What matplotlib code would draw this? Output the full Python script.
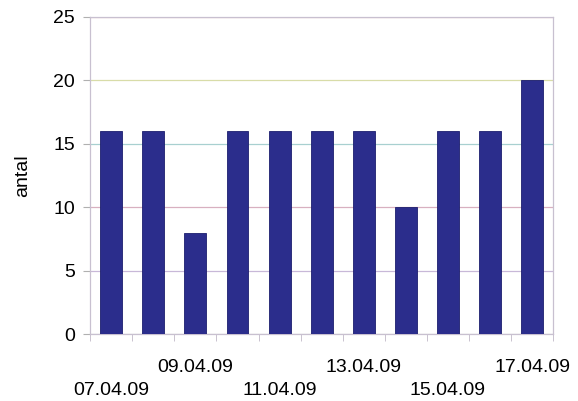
import matplotlib.pyplot as plt
from matplotlib.transforms import ScaledTranslation

plt.rcParams['font.family'] = ['Liberation Sans', 'DejaVu Sans']

dates = ['07.04.09', '08.04.09', '09.04.09', '10.04.09', '11.04.09', '12.04.09',
         '13.04.09', '14.04.09', '15.04.09', '16.04.09', '17.04.09']
antal = [16, 16, 8, 16, 16, 16, 16, 10, 16, 16, 20]
y_ticks = [0, 5, 10, 15, 20, 25]

fig = plt.figure(figsize=(5.78, 4.01), dpi=100)
ax = fig.add_axes([0.156, 0.167, 0.801, 0.791])

x = list(range(len(dates)))
ax.bar(x, antal, width=0.52, color='#2b2d8c', edgecolor='#1c1e6e', linewidth=0.6, zorder=3)

ax.set_xlim(-0.5, len(dates) - 0.5)
ax.set_ylim(0, 25)
ax.set_yticks(y_ticks)

# faint coloured gridlines, like the scanned original
ax.grid(axis='y', linewidth=0.9, zorder=0)
grid_cols = ['#c8c8c8', '#c8b8d8', '#d8b0c0', '#a8d0d0', '#d8dca8', '#e0a8b0']
for gl, c in zip(ax.get_ygridlines(), grid_cols):
    gl.set_color(c)

for s in ax.spines.values():
    s.set_color('#c8c0d0')
    s.set_linewidth(0.9)

# every other date labelled, staggered in two rows
ax.set_xticks(x[::2])
ax.set_xticklabels(dates[::2])
ax.set_xticks([i - 0.5 for i in range(len(dates) + 1)], minor=True)
ax.tick_params(axis='x', which='major', length=0, pad=18, labelsize=14)
ax.tick_params(axis='x', which='minor', length=5, color='#c0b8c8')
ax.tick_params(axis='y', length=5, color='#b0b0b0', labelsize=14, pad=6)
for i, lab in enumerate(ax.get_xticklabels()):
    if i % 2 == 0:
        lab.set_transform(lab.get_transform() + ScaledTranslation(0, -23 / 100, fig.dpi_scale_trans))

ax.set_ylabel('antal', fontsize=14, labelpad=16)

fig.savefig('out.png', dpi=100)
